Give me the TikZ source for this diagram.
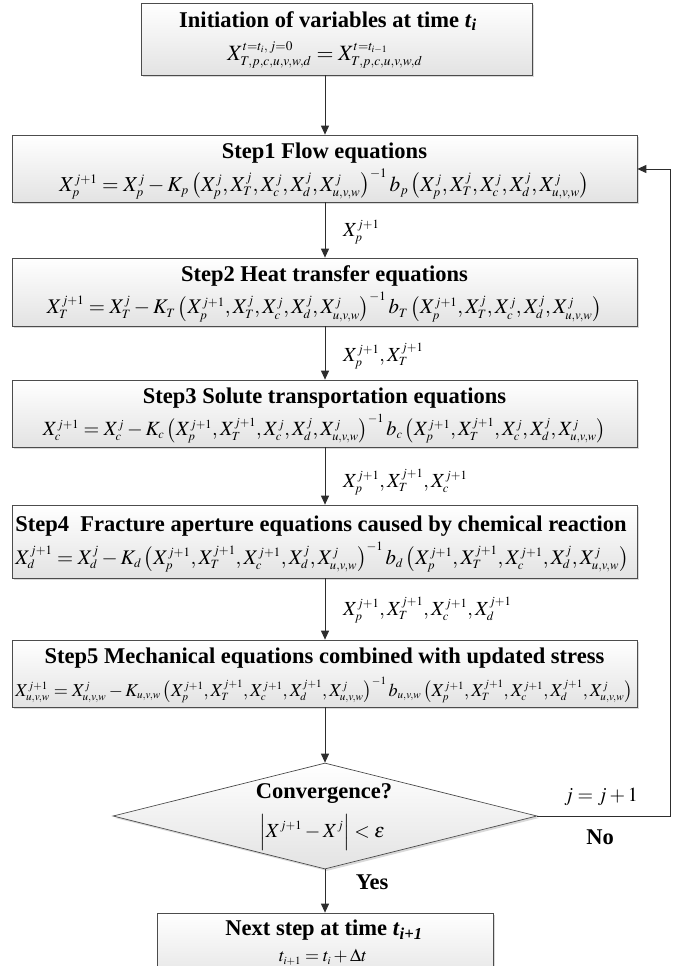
\documentclass[tikz,border=0pt]{standalone}
\usepackage{mathptmx}
\usepackage{fontspec}
\setmainfont{Liberation Serif}
\DeclareMathSizes{18}{18}{11}{8}
\DeclareMathSizes{20}{20}{12.5}{9}
\usetikzlibrary{arrows.meta,shadows,shapes.geometric}
\newcommand{\Xa}[2]{X^{#2}_{#1}}
\begin{document}
\begin{tikzpicture}[x=1pt,y=-1pt,
  boxstyle/.style={draw=gray!60!black, line width=0.7pt, top color=white, bottom color=gray!22,
    drop shadow={shadow xshift=2pt, shadow yshift=-2pt, opacity=0.3}},
  ttl/.style={font=\fontsize{22.5}{26}\selectfont\bfseries, inner sep=0pt},
  eqn/.style={font=\fontsize{18}{22}\selectfont, inner sep=0pt},
  lbl/.style={font=\fontsize{20}{24}\selectfont, inner sep=0pt, anchor=west},
  conn/.style={draw=gray!35!black, line width=1pt, -{Triangle[length=9pt,width=8pt]}},
  line/.style={draw=gray!35!black, line width=1pt}]
\useasboundingbox (0,0) rectangle (676,966);

% boxes
\node[boxstyle, minimum width=391pt, minimum height=72pt, inner sep=0pt] (init) at (336.5,39) {};
\node[boxstyle, minimum width=625pt, minimum height=67pt, inner sep=0pt] (s1) at (324.5,168.5) {};
\node[boxstyle, minimum width=625pt, minimum height=68pt, inner sep=0pt] (s2) at (324.5,292) {};
\node[boxstyle, minimum width=625pt, minimum height=67pt, inner sep=0pt] (s3) at (324.5,413.5) {};
\node[boxstyle, minimum width=625pt, minimum height=73pt, inner sep=0pt] (s4) at (324.5,541.5) {};
\node[boxstyle, minimum width=625pt, minimum height=67pt, inner sep=0pt] (s5) at (324.5,673.5) {};
\node[boxstyle, diamond, minimum width=424pt, minimum height=106pt, inner sep=0pt] (conv) at (325,816) {};
\node[boxstyle, minimum width=336pt, minimum height=72pt, inner sep=0pt] (next) at (325,949) {};

% texts
\node[ttl] (t0) at (328,21) {Initiation of variables at time \textit{t}\textsubscript{\textit{i}}};
\node[eqn] (e0) at (325,55) {\resizebox{195pt}{!}{$X^{t=t_i,\,j=0}_{T,p,c,u,v,w,d}=X^{t=t_{i-1}}_{T,p,c,u,v,w,d}$}};

\node[ttl] (t1) at (324.5,153) {Step1 Flow equations};
\node[eqn] (e1) at (324.5,184) {\resizebox{530pt}{!}{$\Xa{p}{j+1}=\Xa{p}{j}-K_p\left(\Xa{p}{j},\Xa{T}{j},\Xa{c}{j},\Xa{d}{j},\Xa{u,v,w}{j}\right)^{-1}b_p\left(\Xa{p}{j},\Xa{T}{j},\Xa{c}{j},\Xa{d}{j},\Xa{u,v,w}{j}\right)$}};

\node[ttl] (t2) at (324.5,276) {Step2 Heat transfer equations};
\node[eqn] (e2) at (324.5,307) {\resizebox{555pt}{!}{$\Xa{T}{j+1}=\Xa{T}{j}-K_T\left(\Xa{p}{j+1},\Xa{T}{j},\Xa{c}{j},\Xa{d}{j},\Xa{u,v,w}{j}\right)^{-1}b_T\left(\Xa{p}{j+1},\Xa{T}{j},\Xa{c}{j},\Xa{d}{j},\Xa{u,v,w}{j}\right)$}};

\node[ttl] (t3) at (324.5,398) {Step3 Solute transportation equations};
\node[eqn] (e3) at (324.5,429) {\resizebox{563pt}{!}{$\Xa{c}{j+1}=\Xa{c}{j}-K_c\left(\Xa{p}{j+1},\Xa{T}{j+1},\Xa{c}{j},\Xa{d}{j},\Xa{u,v,w}{j}\right)^{-1}b_c\left(\Xa{p}{j+1},\Xa{T}{j+1},\Xa{c}{j},\Xa{d}{j},\Xa{u,v,w}{j}\right)$}};

\node[ttl] (t4) at (321,526) {Step4\ \ Fracture aperture equations caused by chemical reaction};
\node[eqn] (e4) at (322,557) {\resizebox{613pt}{!}{$\Xa{d}{j+1}=\Xa{d}{j}-K_d\left(\Xa{p}{j+1},\Xa{T}{j+1},\Xa{c}{j+1},\Xa{d}{j},\Xa{u,v,w}{j}\right)^{-1}b_d\left(\Xa{p}{j+1},\Xa{T}{j+1},\Xa{c}{j+1},\Xa{d}{j},\Xa{u,v,w}{j}\right)$}};

\node[ttl] (t5) at (324.5,658) {Step5 Mechanical equations combined with updated stress};
\node[eqn] (e5) at (324,690) {\resizebox{617pt}{!}{$\Xa{u,v,w}{j+1}=\Xa{u,v,w}{j}-K_{u,v,w}\left(\Xa{p}{j+1},\Xa{T}{j+1},\Xa{c}{j+1},\Xa{d}{j+1},\Xa{u,v,w}{j}\right)^{-1}b_{u,v,w}\left(\Xa{p}{j+1},\Xa{T}{j+1},\Xa{c}{j+1},\Xa{d}{j+1},\Xa{u,v,w}{j}\right)$}};

\node[ttl] (tc) at (324,794) {Convergence?};
\node[lbl, anchor=center] (ec) at (322,832) {$\Big|X^{j+1}-X^{j}\Big|<\varepsilon$};

\node[ttl] (tn) at (324,930) {Next step at time \textit{t}\textsubscript{\textit{i+1}}};
\node[eqn] (en) at (323,957) {$t_{i+1}=t_i+\Delta t$};

% labels
\node[lbl] (l1) at (343,232) {$\Xa{p}{j+1}$};
\node[lbl] (l2) at (343,356) {$\Xa{p}{j+1},\Xa{T}{j+1}$};
\node[lbl] (l3) at (343,482) {$\Xa{p}{j+1},\Xa{T}{j+1},\Xa{c}{j+1}$};
\node[lbl] (l4) at (343,610) {$\Xa{p}{j+1},\Xa{T}{j+1},\Xa{c}{j+1},\Xa{d}{j+1}$};
\node[lbl, anchor=center] (lj) at (601,797) {$j=j+1$};
\node[ttl] (lno) at (600,837) {No};
\node[ttl] (lyes) at (372,882) {Yes};

% connectors
\draw[conn] (init.south -| conv.north) -- (s1.north -| conv.north);
\draw[conn] (s1.south -| conv.north) -- (s2.north -| conv.north);
\draw[conn] (s2.south -| conv.north) -- (s3.north -| conv.north);
\draw[conn] (s3.south -| conv.north) -- (s4.north -| conv.north);
\draw[conn] (s4.south -| conv.north) -- (s5.north -| conv.north);
\draw[conn] (s5.south -| conv.north) -- (conv.north);
\draw[conn] (conv.south) -- (next.north);
\coordinate (fb1) at (670,816);
\coordinate (fb2) at (670,169);
\draw[conn] (conv.east) -- (fb1) -- (fb2) -- (fb2 -| s1.east);
\end{tikzpicture}
\end{document}
